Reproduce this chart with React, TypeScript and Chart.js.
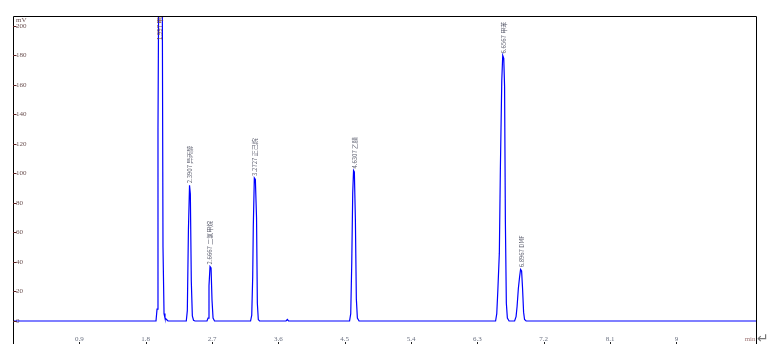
import React, { useEffect, useRef } from "react";
import { Chart, registerables } from "chart.js";

Chart.register(...registerables);

// Chromatogram trace: retention time (min) and detector signal (mV)
const retentionTimes = [
  0,
  1.94, 1.954, 1.967, 1.981, 2.001, 2.022, 2.035, 2.049, 2.062, 2.083, 2.103,
  2.351, 2.365, 2.38, 2.395, 2.406, 2.419, 2.433, 2.449, 2.469,
  2.632, 2.646, 2.659, 2.673, 2.687, 2.7, 2.714, 2.734,
  3.223, 3.239, 3.252, 3.26, 3.274, 3.288, 3.304, 3.315, 3.328, 3.345,
  3.704, 3.722, 3.738,
  4.566, 4.582, 4.596, 4.609, 4.62, 4.631, 4.645, 4.658, 4.672, 4.695,
  6.547, 6.563, 6.577, 6.598, 6.612, 6.631, 6.644, 6.658, 6.669, 6.68, 6.693, 6.707, 6.73,
  6.805, 6.825, 6.839, 6.856, 6.873, 6.886, 6.9, 6.913, 6.927, 6.94, 6.961,
  10.08,
];
const signalMv = [
  0,
  0, 8, 131, 270, 330, 280, 50, 5, 2, 1, 0,
  0, 7, 62, 92, 86, 27, 3.5, 0.5, 0,
  0, 2, 24, 37, 36, 14, 2, 0,
  0, 4, 30, 64, 97, 96, 70, 12, 1, 0,
  0, 1, 0,
  0, 5, 40, 87, 102, 101, 69, 15, 2, 0,
  0, 5, 20, 46, 103, 163, 180, 178, 159, 67, 12, 2, 0,
  0, 3, 10, 22, 30, 35, 34, 22, 6, 1, 0,
  0,
];

// Peak annotations
const peakTimes = [1.997, 2.3907, 2.6667, 3.2727, 4.6307, 6.6567, 6.8967];
const peakHeights = [330, 92, 37, 97, 102, 180, 35];
const peakNames = ["甲醇", "异丙醇", "二氯甲烷", "正己烷", "乙腈", "甲苯", "DMF"];

// Axes
const xTickValues = [0.9, 1.8, 2.7, 3.6, 4.5, 5.4, 6.3, 7.2, 8.1, 9];
const xUnitLabel = "min";
const xUnitValue = 10;
const xMin = 0;
const xMax = 10.08;
const yTickValues = [0, 20, 40, 60, 80, 100, 120, 140, 160, 180, 200];
const yUnitLabel = "mV";
const yUnitValue = 204;
const yMin = -8.14;
const yMax = 206.78;

const overlayPlugin = {
  id: "chromOverlay",
  afterDraw(chart: any) {
    const { ctx, chartArea: ca, scales } = chart;
    const xs = scales.x;
    const ys = scales.y;
    const frameBottom = 344;
    ctx.save();
    // frame
    ctx.strokeStyle = "#000";
    ctx.lineWidth = 1;
    ctx.beginPath();
    ctx.moveTo(ca.left + 0.5, frameBottom);
    ctx.lineTo(ca.left + 0.5, ca.top + 0.5);
    ctx.lineTo(ca.right + 0.5, ca.top + 0.5);
    ctx.lineTo(ca.right + 0.5, frameBottom);
    ctx.stroke();
    // y tick marks (inward)
    ctx.strokeStyle = "#5a2020";
    ctx.beginPath();
    yTickValues.forEach((v) => {
      const py = Math.round(ys.getPixelForValue(v)) + 0.5;
      ctx.moveTo(ca.left, py);
      ctx.lineTo(ca.left + 3.5, py);
    });
    ctx.stroke();
    // x tick dots below labels
    ctx.fillStyle = "#222";
    xTickValues.forEach((v) => {
      const px = Math.round(xs.getPixelForValue(v));
      ctx.fillRect(px, frameBottom - 2, 1, 2);
    });
    // return arrow glyph at the far right
    ctx.fillStyle = "#777";
    ctx.font = '14px "DejaVu Sans"';
    ctx.textAlign = "left";
    ctx.textBaseline = "middle";
    ctx.fillText("↵", ca.right + 1, frameBottom - 5);
    ctx.restore();

    // peak labels, clipped to plot area
    ctx.save();
    ctx.beginPath();
    ctx.rect(ca.left, ca.top + 1, ca.right - ca.left, ca.bottom - ca.top);
    ctx.clip();
    ctx.font = '6px "Noto Sans CJK SC"';
    ctx.textAlign = "left";
    ctx.textBaseline = "middle";
    peakTimes.forEach((t, i) => {
      const px = xs.getPixelForValue(t);
      let py = ys.getPixelForValue(peakHeights[i]) - 2;
      if (py < ca.top + 24) py = ca.top + 24;
      ctx.save();
      ctx.translate(px, py);
      ctx.rotate(-Math.PI / 2);
      ctx.fillStyle = i === 0 ? "#7a4a30" : "#5e6070";
      ctx.fillText(`${t} ${peakNames[i]}`, 0, 0);
      ctx.restore();
    });
    ctx.restore();
  },
};

export default function App() {
  const canvasRef = useRef<HTMLCanvasElement | null>(null);

  useEffect(() => {
    if (!canvasRef.current) return;
    const points = retentionTimes.map((t, i) => ({ x: t, y: signalMv[i] }));
    const chart = new Chart(canvasRef.current, {
      type: "line",
      data: {
        datasets: [
          {
            data: points,
            borderColor: "#0000ff",
            borderWidth: 1.2,
            pointRadius: 0,
            tension: 0,
            fill: false,
          },
        ],
      },
      options: {
        responsive: false,
        animation: false,
        devicePixelRatio: 1,
        layout: { padding: { left: 13, top: 16, right: 27, bottom: 16 } },
        plugins: {
          legend: { display: false },
          tooltip: { enabled: false },
        },
        scales: {
          x: {
            type: "linear",
            min: xMin,
            max: xMax,
            grid: { display: false, drawTicks: false },
            border: { display: false },
            afterBuildTicks: (scale: any) => {
              scale.ticks = [...xTickValues, xUnitValue].map((v) => ({ value: v }));
            },
            afterFit: (scale: any) => {
              scale.height = 10;
            },
            ticks: {
              autoSkip: false,
              maxRotation: 0,
              minRotation: 0,
              padding: 2,
              color: (c: any) => (c.tick && c.tick.value === xUnitValue ? "#a07878" : "#6a7080"),
              font: { family: '"Liberation Serif", serif', size: 7 },
              callback: (v: any) =>
                v === xUnitValue ? xUnitLabel : String(Math.round(Number(v) * 10) / 10),
            },
          },
          y: {
            type: "linear",
            min: yMin,
            max: yMax,
            grid: { display: false, drawTicks: false },
            border: { display: false },
            afterBuildTicks: (scale: any) => {
              scale.ticks = [...yTickValues, yUnitValue].map((v) => ({ value: v }));
            },
            afterFit: (scale: any) => {
              scale.width = 0;
            },
            ticks: {
              mirror: true,
              autoSkip: false,
              padding: 3,
              color: "#6a5050",
              font: { family: '"Liberation Serif", serif', size: 7 },
              callback: (v: any) => (v === yUnitValue ? yUnitLabel : String(v)),
            },
          },
        },
      },
      plugins: [overlayPlugin],
    });
    return () => chart.destroy();
  }, []);

  return (
    <div style={{ position: "fixed", left: 0, top: 0, width: 783, height: 359, background: "#fff" }}>
      <canvas ref={canvasRef} width={783} height={359} style={{ display: "block" }} />
    </div>
  );
}
